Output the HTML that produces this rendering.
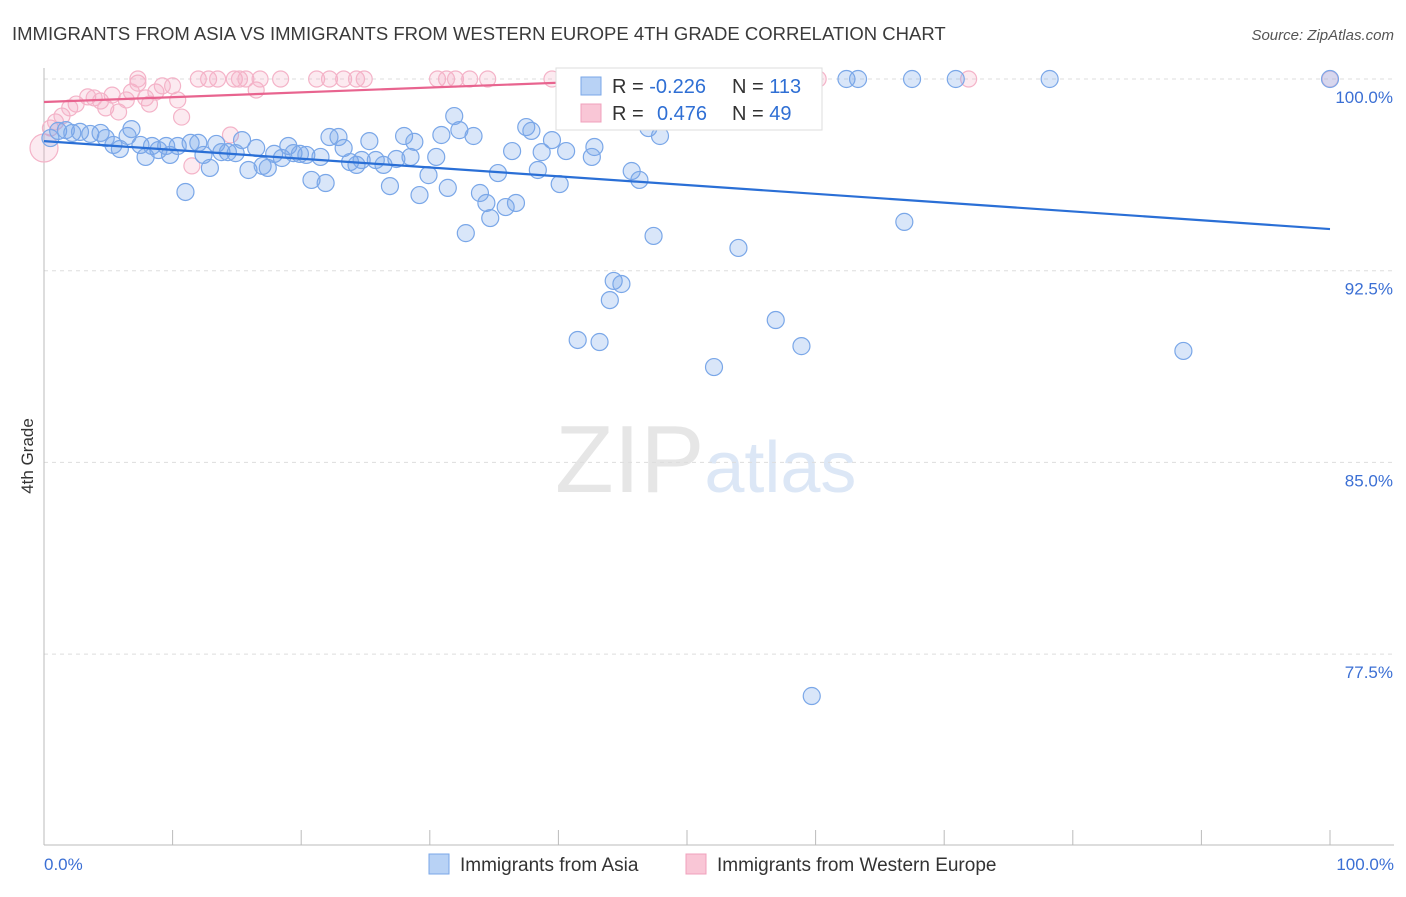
<!DOCTYPE html>
<html><head><meta charset="utf-8"><style>
body{margin:0;background:#fff;font-family:"Liberation Sans",sans-serif}
svg text{font-family:"Liberation Sans",sans-serif}
</style></head><body>
<svg id="chart" width="1406" height="892" xmlns="http://www.w3.org/2000/svg">
<text x="12" y="40" font-size="18.5" fill="#3a3a3a">IMMIGRANTS FROM ASIA VS IMMIGRANTS FROM WESTERN EUROPE 4TH GRADE CORRELATION CHART</text>
<text x="1394" y="40" font-size="15" fill="#555" text-anchor="end" font-style="italic">Source: ZipAtlas.com</text>
<text x="555" y="492" font-size="96" fill="#e6e6e6" font-family="Liberation Serif">ZIP<tspan fill="#dce7f6" font-family="Liberation Sans" font-size="72">atlas</tspan></text>
<text transform="translate(33,456) rotate(-90)" font-size="17" fill="#333" text-anchor="middle">4th Grade</text>
<g id="grid"></g><g id="axes"></g><g id="pinkpts"></g><g id="bluepts"></g><g id="lines"></g>
<g>
<rect x="556" y="68" width="266" height="62" fill="#fff" stroke="#ddd"/>
<rect x="581" y="77" width="20" height="18" fill="#b8d2f5" stroke="#7aa7e8"/>
<text x="612" y="93" font-size="20" fill="#333">R = <tspan fill="#2f6fd4">-0.226</tspan><tspan x="732">N = </tspan><tspan fill="#2f6fd4">113</tspan></text>
<rect x="581" y="104" width="20" height="18" fill="#f9c6d6" stroke="#f0a0bc"/>
<text x="612" y="120" font-size="20" fill="#333">R = <tspan x="657" fill="#2f6fd4">0.476</tspan><tspan x="732">N = </tspan><tspan fill="#2f6fd4">49</tspan></text>
</g>
<g>
<rect x="429" y="854" width="20" height="20" fill="#b8d2f5" stroke="#7aa7e8"/>
<text x="460" y="871" font-size="19" fill="#333">Immigrants from Asia</text>
<rect x="686" y="854" width="20" height="20" fill="#f9c6d6" stroke="#f0a0bc"/>
<text x="717" y="871" font-size="19" fill="#333">Immigrants from Western Europe</text>
</g>
</svg>
<script>
const yTicks=[100,92.5,85,77.5];
const yTickLabels=["100.0%","92.5%","85.0%","77.5%"];
const blueX=[0.5,1.1,1.7,2.2,2.8,3.6,4.4,4.8,5.4,5.9,6.5,6.8,7.5,7.9,8.4,8.9,9.5,9.8,10.4,11.0,11.4,12.0,12.4,12.9,13.4,13.8,14.3,14.9,15.4,15.9,16.5,17.0,17.4,17.9,18.5,19.0,19.4,19.9,20.4,20.8,21.5,21.9,22.2,22.9,23.3,23.8,24.3,24.7,25.3,25.8,26.4,26.9,27.4,28.0,28.5,28.8,29.2,29.9,30.5,30.9,31.4,31.9,32.3,32.8,33.4,33.9,34.4,34.7,35.3,35.9,36.4,36.7,37.5,37.9,38.4,38.7,39.5,40.1,40.6,41.1,41.5,42.8,42.6,43.2,44.0,44.3,44.9,45.7,46.3,47.0,47.4,47.9,52.1,52.6,53.5,54.0,56.9,58.9,59.7,62.4,63.3,66.9,67.5,70.9,78.2,88.6,100,43.1,52.3];
const blueY=[97.69,97.97,98.0,97.89,97.93,97.85,97.89,97.69,97.42,97.26,97.77,98.04,97.42,96.95,97.38,97.22,97.38,97.03,97.38,95.58,97.5,97.5,97.03,96.52,97.46,97.14,97.14,97.1,97.61,96.44,97.3,96.6,96.52,97.07,96.91,97.38,97.1,97.07,97.03,96.05,96.95,95.93,97.73,97.73,97.3,96.75,96.64,96.83,97.57,96.83,96.64,95.81,96.87,97.77,96.95,97.54,95.46,96.24,96.95,97.81,95.74,98.55,98.0,93.97,97.77,95.54,95.15,94.56,96.32,94.99,97.18,95.15,98.12,97.97,96.44,97.14,97.61,95.89,97.18,98.98,89.79,97.34,96.95,89.71,91.35,92.1,91.98,96.4,96.05,98.08,93.86,97.77,88.73,100,100,93.39,90.57,89.55,75.86,100,100,94.41,100,100,100,89.36,100,99.06,99.45];
const pinkX=[0,0.5,0.9,1.4,2.0,2.5,3.4,3.9,4.4,4.8,5.3,5.8,6.4,6.8,7.3,7.9,8.2,8.7,9.2,10.0,10.4,10.7,11.5,12.0,12.8,13.5,14.5,14.8,15.2,15.7,16.5,16.8,18.4,21.2,22.2,23.3,24.3,24.9,30.6,31.3,32.0,33.1,34.5,39.5,47.7,60.2,71.9,100,7.3];
const pinkY=[97.3,98.08,98.32,98.55,98.87,99.02,99.3,99.26,99.14,98.87,99.37,98.71,99.18,99.49,99.84,99.26,99.02,99.49,99.73,99.73,99.18,98.51,96.6,100,100,100,97.81,100,100,100,99.57,100,100,100,100,100,100,100,100,100,100,100,100,100,100,100,100,100,100];
const blueTrend=[0,97.57,100,94.13];
const pinkTrend=[0,99.1,47.7,100];
const NS="http://www.w3.org/2000/svg";
const X=v=>44+v*12.86, Y=v=>79+(100-v)*25.56;
function mk(t,a,p){const e=document.createElementNS(NS,t);for(const k in a)e.setAttribute(k,a[k]);p.appendChild(e);return e;}
const grid=document.getElementById('grid'),axes=document.getElementById('axes');
yTicks.forEach((t,i)=>{
 const l=mk('line',{x1:44,x2:1394,y1:Y(t),y2:Y(t),stroke:'#ddd','stroke-dasharray':'4 4'},grid);
 
 
 const tx=mk('text',{x:1393,y:Y(t)+24,'font-size':17,fill:'#3b6fd4','text-anchor':'end'},axes);
 tx.textContent=yTickLabels[i];
 
 
});
mk('line',{x1:44,x2:44,y1:68,y2:845,stroke:'#bbb'},axes);
mk('line',{x1:44,x2:1394,y1:845,y2:845,stroke:'#bbb'},axes);
for(let i=0;i<=10;i++){const t=mk('line',{x1:X(i*10),x2:X(i*10),y1:830,y2:845,stroke:'#bbb'},axes);
 
 }
const x0=mk('text',{x:44,y:870,'font-size':17,fill:'#3b6fd4'},axes);x0.textContent='0.0%';


const x1=mk('text',{x:1394,y:870,'font-size':17,fill:'#3b6fd4','text-anchor':'end'},axes);x1.textContent='100.0%';


const pp=document.getElementById('pinkpts');
pinkX.forEach((v,i)=>{const c=mk('circle',{cx:X(v),cy:Y(pinkY[i]),r:i==0?14:8,fill:'rgba(244,170,195,0.25)',stroke:'#f4b3c8','stroke-width':1.2},pp);
 
 });
const bp=document.getElementById('bluepts');
blueX.forEach((v,i)=>{const c=mk('circle',{cx:X(v),cy:Y(blueY[i]),r:8.5,fill:'rgba(120,165,235,0.28)',stroke:'#7aa7e8','stroke-width':1.2},bp);
 
 });
const lg=document.getElementById('lines');
const bl=mk('line',{x1:X(blueTrend[0]),y1:Y(blueTrend[1]),x2:X(blueTrend[2]),y2:Y(blueTrend[3]),stroke:'#2a6fd6','stroke-width':2.2},lg);


const pl=mk('line',{x1:X(pinkTrend[0]),y1:Y(pinkTrend[1]),x2:X(pinkTrend[2]),y2:Y(pinkTrend[3]),stroke:'#e8648f','stroke-width':2.2},lg);


</script>
</body></html>
